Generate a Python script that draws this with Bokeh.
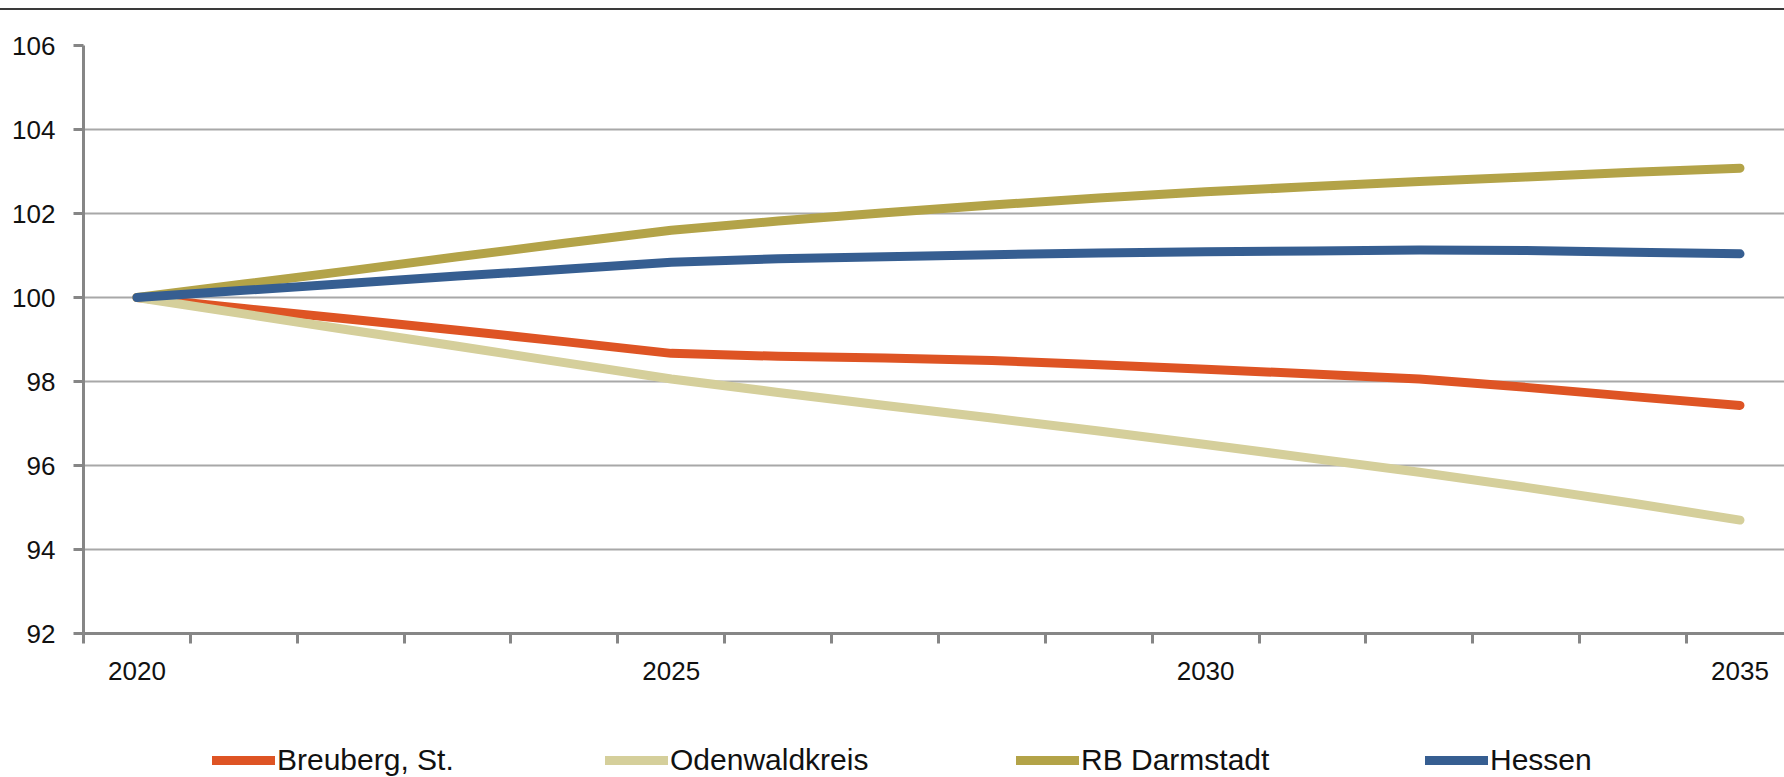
from bokeh.plotting import figure
from bokeh.models import FixedTicker, Legend, LegendItem, Div, Range1d
from bokeh.layouts import column
from bokeh.embed import file_html
from bokeh.resources import INLINE

# ---- data ----
years = list(range(2020, 2036))
breuberg = [100.0, 99.74, 99.48, 99.22, 98.95, 98.67, 98.60, 98.56, 98.50, 98.40,
            98.29, 98.18, 98.06, 97.86, 97.64, 97.43]
odenwald = [100.0, 99.61, 99.22, 98.84, 98.45, 98.06, 97.74, 97.43, 97.13, 96.82,
            96.50, 96.17, 95.84, 95.48, 95.10, 94.70]
rb_darmstadt = [100.0, 100.32, 100.64, 100.97, 101.29, 101.60, 101.82, 102.02, 102.20, 102.37,
                102.52, 102.64, 102.76, 102.87, 102.98, 103.08]
hessen = [100.0, 100.17, 100.34, 100.51, 100.67, 100.84, 100.92, 100.97, 101.02, 101.06,
          101.09, 101.11, 101.13, 101.12, 101.08, 101.04]

series_names = ["Breuberg, St.", "Odenwaldkreis", "RB Darmstadt", "Hessen"]
series_values = [breuberg, odenwald, rb_darmstadt, hessen]
series_colors = ["#DE5424", "#D5CF9B", "#B3A348", "#365E91"]

label_years = [2020, 2025, 2030, 2035]
y_ticks = [92, 94, 96, 98, 100, 102, 104, 106]

FONT = "'Liberation Sans Narrow', 'Arial Narrow', 'Liberation Sans', Arial, sans-serif"
AXIS_COLOR = "#868686"
TEXT_COLOR = "#111111"
W = 1784
LEFT = 83

# ---- main chart ----
p = figure(width=W, height=683, output_backend="svg", toolbar_location=None,
           min_border_left=LEFT, min_border_right=0, min_border_top=35, min_border_bottom=60,
           x_range=Range1d(years[0] - 0.5, years[0] - 0.5 + (W - LEFT) / 106.87),
           y_range=Range1d(y_ticks[0], y_ticks[-1]))
p.outline_line_color = None
p.background_fill_color = "white"
p.border_fill_color = "white"

p.xgrid.visible = False
p.ygrid.ticker = FixedTicker(ticks=y_ticks)
p.ygrid.grid_line_color = "#a8a8a8"
p.ygrid.grid_line_width = 2

p.yaxis.ticker = FixedTicker(ticks=y_ticks)
p.yaxis.axis_line_color = AXIS_COLOR
p.yaxis.axis_line_width = 3
p.yaxis.major_tick_line_color = AXIS_COLOR
p.yaxis.major_tick_line_width = 3
p.yaxis.major_tick_out = 10
p.yaxis.major_tick_in = 0
p.yaxis.minor_tick_line_color = None
p.yaxis.major_label_text_font = FONT
p.yaxis.major_label_text_font_size = "26px"
p.yaxis.major_label_text_color = TEXT_COLOR
p.yaxis.major_label_standoff = 18

p.xaxis.ticker = FixedTicker(ticks=label_years,
                             minor_ticks=[y - 0.5 for y in years] + [years[-1] + 0.5])
p.xaxis.axis_line_color = AXIS_COLOR
p.xaxis.axis_line_width = 3
p.xaxis.major_tick_line_color = None
p.xaxis.major_tick_out = 0
p.xaxis.major_tick_in = 0
p.xaxis.minor_tick_line_color = AXIS_COLOR
p.xaxis.minor_tick_line_width = 3
p.xaxis.minor_tick_out = 10
p.xaxis.minor_tick_in = 0
p.xaxis.major_label_text_font = FONT
p.xaxis.major_label_text_font_size = "26px"
p.xaxis.major_label_text_color = TEXT_COLOR
p.xaxis.major_label_standoff = 18

for name, vals, col in zip(series_names, series_values, series_colors):
    p.line(years, vals, line_color=col, line_width=9,
           line_cap="round", line_join="round")

# ---- legend strip ----
LH = 84
pl = figure(width=W, height=LH, output_backend="svg", toolbar_location=None,
            x_axis_type=None, y_axis_type=None,
            min_border=0, min_border_left=LEFT,
            x_range=Range1d(0, W - LEFT), y_range=Range1d(0, LH))
pl.grid.visible = False
pl.outline_line_color = None
pl.border_fill_color = "white"

nan = float("nan")
legend_x = [129, 522, 933, 1342]
for name, col, lx in zip(series_names, series_colors, legend_x):
    # placeholder renderer (no visible data) that only provides the legend swatch
    r = pl.line(x=[nan], y=[nan], line_color=col, line_width=9,
                line_cap="round", line_join="round")
    lg = Legend(items=[LegendItem(label=name, renderers=[r])],
                location=(lx, 0), orientation="horizontal",
                glyph_width=63, glyph_height=10, label_standoff=2,
                padding=0, margin=0, spacing=0,
                border_line_color=None, background_fill_alpha=0,
                label_text_font=FONT, label_text_font_size="30px",
                label_text_color=TEXT_COLOR)
    pl.add_layout(lg, "center")

top_line = Div(text="", width=W, height=2, margin=(8, 0, 0, 0),
               styles={"background-color": "#3a3a3a"})

layout = column(top_line, p, pl, spacing=0)

open("out.html", "w").write(file_html(layout, INLINE))
